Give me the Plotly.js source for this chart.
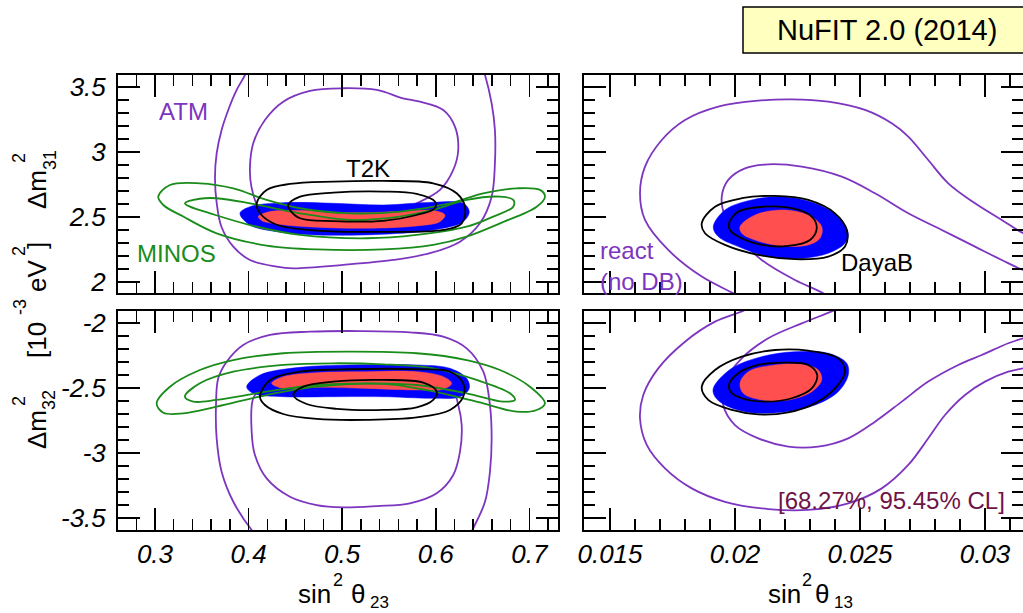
<!DOCTYPE html>
<html>
<head>
<meta charset="utf-8">
<script src="https://cdn.plot.ly/plotly-3.0.1.min.js"></script>
<style>
html,body{margin:0;padding:0;background:#fff;}
#chart{width:1023px;height:613px;}
#chart .xtick text, #chart .ytick text{font-style:italic !important;}
</style>
</head>
<body>
<div id="chart"></div>
<script>
// ---------- data: contour outlines ([x, y] points) ----------
// Top-left: sin^2(theta23) vs Dm^2_31
const atmOuterTL = [[0.501,2.131],[0.5546,2.169],[0.5938,2.221],[0.6259,2.31],[0.6472,2.451],[0.6597,2.656],[0.6632,2.913],[0.6632,3.169],[0.6597,3.374],[0.6526,3.592],[0.645,3.75],[0.62,3.88],[0.55,3.95],[0.46,3.93],[0.41,3.80],[0.3962,3.592],[0.3873,3.477],[0.3783,3.323],[0.3712,3.169],[0.3659,2.99],[0.3641,2.80],[0.366,2.605],[0.371,2.425],[0.3837,2.272],[0.4015,2.169],[0.43,2.118],[0.4478,2.105],[0.501,2.131]];
const atmInnerTL = [[0.501,3.49],[0.537,3.477],[0.565,3.413],[0.583,3.387],[0.608,3.323],[0.6205,3.195],[0.624,3.015],[0.6187,2.862],[0.6045,2.708],[0.5796,2.605],[0.55,2.52],[0.50,2.47],[0.45,2.48],[0.42,2.52],[0.412,2.554],[0.403,2.733],[0.4015,2.887],[0.405,3.067],[0.4175,3.246],[0.437,3.387],[0.4656,3.47],[0.501,3.49]];
const minosOuterTL = [[0.5083,2.528],[0.5618,2.541],[0.615,2.605],[0.6507,2.682],[0.6864,2.72],[0.7113,2.708],[0.7167,2.656],[0.7078,2.579],[0.6686,2.451],[0.633,2.349],[0.5973,2.285],[0.5439,2.25],[0.4728,2.25],[0.4193,2.28],[0.3659,2.374],[0.3302,2.503],[0.3089,2.592],[0.3035,2.656],[0.316,2.746],[0.348,2.759],[0.3837,2.72],[0.4193,2.631],[0.455,2.567],[0.5083,2.528]];
const minosInnerTL = [[0.5083,2.477],[0.5617,2.503],[0.597,2.554],[0.633,2.631],[0.6686,2.656],[0.6828,2.631],[0.6828,2.579],[0.6614,2.503],[0.633,2.425],[0.5796,2.362],[0.5262,2.336],[0.455,2.362],[0.4015,2.438],[0.3588,2.528],[0.3374,2.579],[0.332,2.605],[0.348,2.64],[0.366,2.644],[0.4015,2.605],[0.455,2.528],[0.5083,2.477]];
const t2kOuterTL = [[0.4905,2.772],[0.544,2.777],[0.5973,2.759],[0.6223,2.682],[0.6312,2.579],[0.6277,2.451],[0.608,2.4],[0.544,2.385],[0.4728,2.395],[0.43,2.44],[0.4122,2.528],[0.4087,2.605],[0.4193,2.708],[0.4442,2.754],[0.4905,2.772]];
const t2kInnerTL = [[0.4905,2.687],[0.544,2.695],[0.5796,2.677],[0.5991,2.618],[0.599,2.567],[0.5796,2.515],[0.544,2.47],[0.4905,2.468],[0.455,2.49],[0.4442,2.554],[0.4424,2.592],[0.455,2.656],[0.4905,2.687]];
const global95TL = [[0.4905,2.605],[0.544,2.592],[0.5973,2.613],[0.6294,2.605],[0.6358,2.541],[0.6294,2.464],[0.5973,2.4],[0.544,2.367],[0.4728,2.362],[0.43,2.387],[0.4015,2.438],[0.3908,2.528],[0.4015,2.579],[0.437,2.61],[0.4905,2.605]];
const global68TL = [[0.5083,2.533],[0.5617,2.541],[0.5973,2.549],[0.6098,2.515],[0.6045,2.464],[0.5796,2.431],[0.5262,2.413],[0.4728,2.421],[0.43,2.446],[0.414,2.472],[0.4104,2.503],[0.4229,2.541],[0.455,2.549],[0.5083,2.533]];

// Top-right: sin^2(theta13) vs Dm^2_31
const reactOuterTR = [[0.0205,1.85],[0.01993,1.913],[0.01867,2.041],[0.01733,2.246],[0.0164,2.477],[0.0162,2.682],[0.0164,2.887],[0.01707,3.092],[0.018,3.246],[0.01933,3.349],[0.02093,3.395],[0.02227,3.405],[0.02373,3.387],[0.0252,3.323],[0.02627,3.22],[0.02693,3.118],[0.02773,2.938],[0.02853,2.759],[0.0296,2.605],[0.03067,2.477],[0.03153,2.375],[0.0325,2.30]];
const reactInnerTR = [[0.0240,1.85],[0.02353,1.913],[0.0224,2.015],[0.02107,2.169],[0.02013,2.349],[0.0196,2.503],[0.01947,2.656],[0.01973,2.785],[0.0204,2.874],[0.02133,2.905],[0.02267,2.887],[0.02427,2.81],[0.0256,2.682],[0.02693,2.528],[0.02827,2.4],[0.0296,2.272],[0.03067,2.169],[0.03153,2.092],[0.0325,2.04]];
const dayabOuterTR = [[0.0216,2.662],[0.02293,2.631],[0.024,2.528],[0.02447,2.4],[0.0244,2.272],[0.02373,2.195],[0.0224,2.175],[0.02093,2.208],[0.0196,2.285],[0.0188,2.375],[0.01867,2.451],[0.0192,2.579],[0.02027,2.644],[0.0216,2.662]];
const dayabInnerTR = [[0.0212,2.579],[0.02227,2.567],[0.02307,2.503],[0.02327,2.413],[0.023,2.323],[0.02213,2.277],[0.02107,2.285],[0.02013,2.349],[0.0198,2.4],[0.01976,2.451],[0.02013,2.541],[0.0212,2.579]];
const global95TR = [[0.02187,2.656],[0.0232,2.605],[0.02413,2.503],[0.02453,2.375],[0.0244,2.298],[0.02373,2.221],[0.02267,2.182],[0.02133,2.195],[0.02013,2.272],[0.01933,2.349],[0.01913,2.425],[0.0196,2.554],[0.02067,2.631],[0.02187,2.656]];
const global68TR = [[0.02187,2.554],[0.02293,2.515],[0.02347,2.425],[0.0234,2.336],[0.02293,2.285],[0.02187,2.277],[0.0208,2.323],[0.02027,2.375],[0.0202,2.425],[0.0208,2.515],[0.02187,2.554]];

// Bottom-left: sin^2(theta23) vs Dm^2_32
const atmOuterBL = [[0.519,-2.062],[0.5724,-2.072],[0.608,-2.105],[0.633,-2.195],[0.6508,-2.375],[0.6579,-2.631],[0.6597,-2.887],[0.6579,-3.144],[0.6526,-3.375],[0.64,-3.579],[0.625,-3.78],[0.58,-3.92],[0.50,-3.95],[0.44,-3.88],[0.4033,-3.592],[0.3837,-3.375],[0.3712,-3.144],[0.3659,-2.887],[0.3652,-2.631],[0.3676,-2.426],[0.3766,-2.298],[0.3943,-2.169],[0.4229,-2.092],[0.4656,-2.067],[0.519,-2.062]];
const atmInnerBL = [[0.5012,-3.418],[0.5369,-3.408],[0.5724,-3.387],[0.601,-3.31],[0.6187,-3.169],[0.6259,-2.99],[0.6277,-2.785],[0.624,-2.631],[0.6187,-2.528],[0.59,-2.45],[0.52,-2.43],[0.45,-2.45],[0.415,-2.50],[0.405,-2.579],[0.4033,-2.836],[0.4068,-3.015],[0.4193,-3.195],[0.4442,-3.336],[0.4727,-3.4],[0.5012,-3.418]];
const minosOuterBL = [[0.5083,-2.221],[0.5796,-2.233],[0.633,-2.285],[0.6686,-2.362],[0.7006,-2.49],[0.7166,-2.618],[0.7078,-2.669],[0.6864,-2.682],[0.6507,-2.618],[0.6152,-2.554],[0.5796,-2.503],[0.5439,-2.469],[0.4728,-2.49],[0.4193,-2.554],[0.3659,-2.644],[0.3302,-2.695],[0.3089,-2.69],[0.3018,-2.618],[0.316,-2.49],[0.348,-2.362],[0.3837,-2.285],[0.437,-2.233],[0.5083,-2.221]];
const minosInnerBL = [[0.4905,-2.31],[0.5439,-2.318],[0.5973,-2.349],[0.6437,-2.438],[0.6793,-2.541],[0.6846,-2.592],[0.6722,-2.605],[0.633,-2.541],[0.5796,-2.477],[0.5262,-2.464],[0.4728,-2.477],[0.4193,-2.528],[0.3659,-2.592],[0.3409,-2.605],[0.332,-2.567],[0.348,-2.464],[0.3837,-2.375],[0.437,-2.323],[0.4905,-2.31]];
const t2kOuterBL = [[0.5083,-2.356],[0.5796,-2.356],[0.6152,-2.375],[0.6294,-2.464],[0.6294,-2.567],[0.6152,-2.669],[0.5796,-2.726],[0.5262,-2.745],[0.4728,-2.738],[0.437,-2.70],[0.4175,-2.631],[0.4122,-2.567],[0.4229,-2.438],[0.455,-2.375],[0.5083,-2.356]];
const t2kInnerBL = [[0.5439,-2.438],[0.5866,-2.459],[0.601,-2.528],[0.5973,-2.592],[0.5796,-2.649],[0.5439,-2.669],[0.4941,-2.66],[0.462,-2.623],[0.4478,-2.554],[0.4585,-2.49],[0.4905,-2.451],[0.5439,-2.438]];
const global95BL = [[0.5083,-2.323],[0.5796,-2.323],[0.6152,-2.349],[0.633,-2.426],[0.6358,-2.503],[0.6259,-2.567],[0.5973,-2.579],[0.5439,-2.567],[0.4905,-2.567],[0.437,-2.567],[0.405,-2.541],[0.398,-2.49],[0.4122,-2.4],[0.455,-2.341],[0.5083,-2.323]];
const global68BL = [[0.5262,-2.375],[0.5796,-2.375],[0.608,-2.413],[0.617,-2.464],[0.608,-2.51],[0.5796,-2.515],[0.5262,-2.503],[0.4728,-2.495],[0.437,-2.503],[0.4247,-2.464],[0.437,-2.413],[0.4728,-2.382],[0.5262,-2.375]];

// Bottom-right: sin^2(theta13) vs Dm^2_32
const reactOuterBR = [[0.0208,-1.85],[0.0204,-1.9],[0.0192,-1.99],[0.018,-2.144],[0.01693,-2.349],[0.01633,-2.554],[0.0162,-2.733],[0.01647,-2.938],[0.0172,-3.118],[0.01827,-3.272],[0.0196,-3.375],[0.02133,-3.431],[0.02293,-3.438],[0.02453,-3.387],[0.02587,-3.272],[0.02693,-3.092],[0.02773,-2.887],[0.0284,-2.708],[0.0292,-2.554],[0.03,-2.451],[0.03093,-2.375],[0.03153,-2.349],[0.0325,-2.32]];
const reactInnerBR = [[0.0245,-1.85],[0.024,-1.9],[0.02267,-2.003],[0.02133,-2.118],[0.02027,-2.272],[0.0196,-2.451],[0.01953,-2.631],[0.02,-2.785],[0.02093,-2.887],[0.02213,-2.951],[0.02333,-2.951],[0.02453,-2.887],[0.0256,-2.759],[0.02667,-2.605],[0.02773,-2.451],[0.02893,-2.323],[0.02987,-2.246],[0.03093,-2.156],[0.03153,-2.118],[0.0325,-2.08]];
const dayabOuterBR = [[0.0216,-2.208],[0.02293,-2.213],[0.02413,-2.272],[0.0244,-2.375],[0.024,-2.503],[0.0232,-2.618],[0.02213,-2.687],[0.02093,-2.703],[0.01987,-2.669],[0.01893,-2.592],[0.01867,-2.49],[0.0192,-2.362],[0.02027,-2.259],[0.0216,-2.208]];
const dayabInnerBR = [[0.022,-2.305],[0.02293,-2.323],[0.02329,-2.4],[0.02307,-2.503],[0.02227,-2.579],[0.0212,-2.605],[0.02027,-2.579],[0.01984,-2.533],[0.01976,-2.477],[0.02013,-2.387],[0.02093,-2.323],[0.022,-2.305]];
const global95BR = [[0.0224,-2.221],[0.02373,-2.233],[0.02447,-2.31],[0.02453,-2.4],[0.02413,-2.528],[0.0232,-2.631],[0.02187,-2.687],[0.02053,-2.687],[0.0196,-2.631],[0.0192,-2.567],[0.01913,-2.503],[0.01987,-2.349],[0.02107,-2.259],[0.0224,-2.221]];
const global68BR = [[0.0216,-2.323],[0.02267,-2.318],[0.02333,-2.362],[0.02347,-2.438],[0.02307,-2.528],[0.02213,-2.592],[0.02107,-2.592],[0.02033,-2.541],[0.0202,-2.464],[0.02053,-2.375],[0.0216,-2.323]];

// ---------- tick labels ----------
const xTicksT23 = [0.3, 0.4, 0.5, 0.6, 0.7];
const xTextT23 = ['0.3', '0.4', '0.5', '0.6', '0.7'];
const xTicksT13 = [0.015, 0.02, 0.025, 0.03];
const xTextT13 = ['0.015', '0.02', '0.025', '0.03'];
const yTicks31 = [2, 2.5, 3, 3.5];
const yText31 = ['2', '2.5', '3', '3.5'];
const yTicks32 = [-2, -2.5, -3, -3.5];
const yText32 = ['-2', '-2.5', '-3', '-3.5'];

// ---------- styling ----------
const PURPLE = '#7d35c0', GREEN = '#1a8c1a', BLUE = '#0000ff', RED = '#ff4f4f', BLACK = '#000000';
const FONT = 'Liberation Sans, Arial, Helvetica, sans-serif';

function lineTrace(pts, xa, ya, color) {
  return {x: pts.map(p => p[0]), y: pts.map(p => p[1]), xaxis: xa, yaxis: ya,
    mode: 'lines', line: {color: color, width: 1.8, shape: 'spline', smoothing: 1},
    hoverinfo: 'skip', showlegend: false};
}
function fillTrace(pts, xa, ya, color) {
  return {x: pts.map(p => p[0]), y: pts.map(p => p[1]), xaxis: xa, yaxis: ya,
    mode: 'lines', fill: 'toself', fillcolor: color, line: {color: color, width: 0.5, shape: 'spline', smoothing: 1},
    hoverinfo: 'skip', showlegend: false};
}

const panels = [
  {xa:'x',  ya:'y',  purple:[atmOuterTL, atmInnerTL], fills:[global95TL, global68TL], green:[minosOuterTL, minosInnerTL], black:[t2kOuterTL, t2kInnerTL]},
  {xa:'x2', ya:'y2', purple:[reactOuterTR, reactInnerTR], fills:[global95TR, global68TR], green:[], black:[dayabOuterTR, dayabInnerTR]},
  {xa:'x3', ya:'y3', purple:[atmOuterBL, atmInnerBL], fills:[global95BL, global68BL], green:[minosOuterBL, minosInnerBL], black:[t2kOuterBL, t2kInnerBL]},
  {xa:'x4', ya:'y4', purple:[reactOuterBR, reactInnerBR], fills:[global95BR, global68BR], green:[], black:[dayabOuterBR, dayabInnerBR]}
];

const traces = [];
panels.forEach(p => {
  p.purple.forEach(c => traces.push(lineTrace(c, p.xa, p.ya, PURPLE)));
  traces.push(fillTrace(p.fills[0], p.xa, p.ya, BLUE));
  traces.push(fillTrace(p.fills[1], p.xa, p.ya, RED));
  p.green.forEach(c => traces.push(lineTrace(c, p.xa, p.ya, GREEN)));
  p.black.forEach(c => traces.push(lineTrace(c, p.xa, p.ya, BLACK)));
});

function axis(extra) {
  return Object.assign({
    showline: true, linewidth: 2, linecolor: 'black', mirror: 'allticks',
    ticks: 'inside', ticklen: 22, tickwidth: 1.5, tickcolor: 'black',
    showgrid: false, zeroline: false, fixedrange: true, tickmode: 'array',
    tickfont: {family: FONT, size: 26, color: 'black', style: 'italic'}
  }, extra);
}
function minor(dt) {
  return {ticks: 'inside', ticklen: 11, tickwidth: 1.5, tickcolor: 'black', dtick: dt, tick0: 0, showgrid: false};
}

const XL = [118/1023, 558/1023], XR = [584/1023, 1.0];
const YT = [1 - 293/613, 1 - 75/613], YB = [1 - 530/613, 1 - 311/613];
const R23 = [0.2605, 0.7306], R13 = [0.01396, 0.03152];
const R31 = [1.915, 3.592], R32 = [-3.592, -1.908];

// helper for text placed in page pixels
function px(text, x, y, size, extra) {
  return Object.assign({xref: 'paper', yref: 'paper', x: x/1023, y: 1 - y/613, text: text, showarrow: false,
    xanchor: 'center', yanchor: 'middle', font: {family: FONT, size: size, color: 'black'}}, extra || {});
}
const ROT = {textangle: -90};

const layout = {
  width: 1023, height: 613,
  margin: {l: 0, r: 0, t: 0, b: 0},
  paper_bgcolor: 'white', plot_bgcolor: 'white',
  showlegend: false,
  font: {family: FONT, color: 'black'},
  xaxis:  axis({domain: XL, anchor: 'y',  range: R23, tickvals: xTicksT23, ticktext: xTextT23, showticklabels: false, minor: minor(0.02)}),
  yaxis:  axis({domain: YT, anchor: 'x',  range: R31, tickvals: yTicks31, ticktext: yText31, minor: minor(0.1), ticklabelstandoff: 5}),
  xaxis2: axis({domain: XR, anchor: 'y2', range: R13, tickvals: xTicksT13, ticktext: xTextT13, showticklabels: false, minor: minor(0.001)}),
  yaxis2: axis({domain: YT, anchor: 'x2', range: R31, tickvals: yTicks31, ticktext: yText31, showticklabels: false, minor: minor(0.1)}),
  xaxis3: axis({domain: XL, anchor: 'y3', range: R23, tickvals: xTicksT23, ticktext: xTextT23, minor: minor(0.02)}),
  yaxis3: axis({domain: YB, anchor: 'x3', range: R32, tickvals: yTicks32, ticktext: yText32, minor: minor(0.1), ticklabelstandoff: 5}),
  xaxis4: axis({domain: XR, anchor: 'y4', range: R13, tickvals: xTicksT13, ticktext: xTextT13, minor: minor(0.001)}),
  yaxis4: axis({domain: YB, anchor: 'x4', range: R32, tickvals: yTicks32, ticktext: yText32, showticklabels: false, minor: minor(0.1)}),
  shapes: [
    {type: 'rect', xref: 'paper', yref: 'paper', x0: 743/1023, x1: 1.02, y0: 1 - 53/613, y1: 1 - 7/613,
     fillcolor: '#ffffc0', line: {color: 'black', width: 1.5}}
  ],
  annotations: [
    px('NuFIT 2.0 (2014)', 887, 30, 29),
    {xref: 'x', yref: 'y', x: 0.330, y: 3.308, text: 'ATM', showarrow: false, font: {family: FONT, size: 24, color: PURPLE}},
    {xref: 'x', yref: 'y', x: 0.3235, y: 2.215, text: 'MINOS', showarrow: false, font: {family: FONT, size: 24, color: GREEN}},
    {xref: 'x', yref: 'y', x: 0.528, y: 2.869, text: 'T2K', showarrow: false, font: {family: FONT, size: 24, color: BLACK}},
    {xref: 'x2', yref: 'y2', x: 0.01452, y: 2.123, text: 'react<br>(no DB)', showarrow: false, align: 'left', xanchor: 'left',
     font: {family: FONT, size: 24, color: PURPLE}},
    {xref: 'x2', yref: 'y2', x: 0.02566, y: 2.146, text: 'DayaB', showarrow: false, font: {family: FONT, size: 24, color: BLACK}},
    {xref: 'x4', yref: 'y4', x: 0.02624, y: -3.362, text: '[68.27%, 95.45% CL]', showarrow: false, font: {family: FONT, size: 24, color: '#6e1446'}},
    // y-axis titles (rotated), built from pieces so the exponent sits above the index
    px('Δm', 37, 190, 26, ROT), px('2', 19, 158, 18, ROT), px('31', 50, 160, 18, ROT),
    px('[10', 37, 340, 26, ROT), px('-3', 20, 307, 18, ROT), px('eV', 37, 276, 26, ROT), px('2', 19, 251, 18, ROT), px(']', 37, 246, 26, ROT),
    px('Δm', 37, 430, 26, ROT), px('2', 19, 401, 18, ROT), px('32', 49, 400, 18, ROT),
    // x-axis titles
    px('sin', 314, 594, 26), px('2', 338, 580, 18), px('θ', 358, 594, 26), px('23', 379, 602, 17),
    px('sin', 784, 594, 26), px('2', 807, 580, 18), px('θ', 822, 594, 26), px('13', 843, 602, 17)
  ]
};

Plotly.newPlot('chart', traces, layout, {staticPlot: true, displayModeBar: false});
</script>
</body>
</html>
